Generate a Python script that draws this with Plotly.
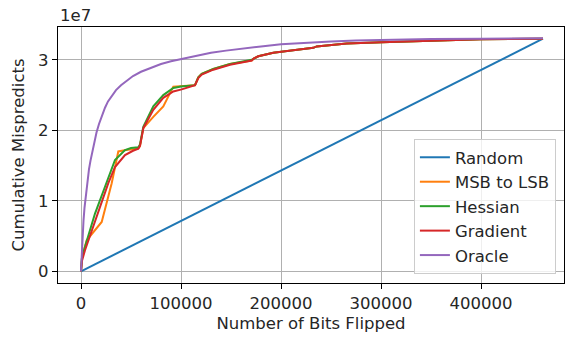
import plotly.graph_objects as go

# ---- data (values in units of mispredicts) ----
random_x = [0, 100000, 200000, 300000, 400000, 462000]
random_y = [0, 0.715e7, 1.43e7, 2.15e7, 2.86e7, 3.30e7]

msb_x = [0, 1000, 5700, 20700, 30700, 37300, 45000, 57300, 59000, 62300, 72300, 82300,
         92300, 100000, 114000, 117300, 120700, 132300, 149000, 170700, 173000, 177300,
         192300, 209000, 219000, 232300, 235700, 265700, 300700, 349000, 400000, 462000]
msb_y = [0, 0.20, 0.44, 0.70, 1.25, 1.70, 1.72, 1.74, 1.78, 2.03, 2.19, 2.34,
         2.62, 2.63, 2.64, 2.75, 2.80, 2.87, 2.94, 2.99, 3.02, 3.05,
         3.10, 3.13, 3.15, 3.17, 3.19, 3.23, 3.25, 3.27, 3.29, 3.30]

hess_x = [0, 1000, 4000, 14000, 24000, 34000, 44000, 50000, 57300, 59000, 62300, 72300,
          82300, 92300, 100000, 114000, 117300, 120700, 132300, 149000, 170700, 173000,
          177300, 192300, 209000, 219000, 232300, 235700, 265700, 300700, 349000, 400000, 462000]
hess_y = [0, 0.20, 0.35, 0.82, 1.20, 1.58, 1.72, 1.75, 1.76, 1.80, 2.05, 2.34,
          2.50, 2.60, 2.62, 2.64, 2.75, 2.80, 2.87, 2.94, 3.00, 3.02,
          3.05, 3.10, 3.13, 3.15, 3.17, 3.19, 3.23, 3.25, 3.27, 3.29, 3.30]

grad_x = [0, 1000, 4000, 10700, 19000, 27300, 34000, 44000, 52000, 57300, 59000, 62300,
          72300, 82300, 92300, 100700, 114000, 117300, 120700, 132300, 149000, 170700,
          173000, 177300, 192300, 209000, 219000, 232300, 235700, 265700, 300700, 349000,
          400000, 462000]
grad_y = [0, 0.15, 0.30, 0.58, 0.91, 1.25, 1.48, 1.65, 1.71, 1.74, 1.78, 2.03,
          2.29, 2.46, 2.55, 2.58, 2.64, 2.74, 2.79, 2.86, 2.93, 2.99,
          3.02, 3.05, 3.10, 3.13, 3.15, 3.17, 3.19, 3.23, 3.25, 3.27,
          3.29, 3.30]

oracle_x = [0, 700, 1500, 2500, 3500, 5000, 6500, 8000, 9500, 11000, 13000, 15500, 18000,
            20500, 24000, 27000, 31000, 35000, 40000, 45000, 52000, 60000, 70000,
            80000, 90000, 100000, 115000, 130000, 145000, 160000, 180000, 200000,
            225000, 250000, 275000, 300000, 350000, 400000, 462000]
oracle_y = [0, 0.28, 0.50, 0.72, 0.90, 1.12, 1.30, 1.45, 1.57, 1.68, 1.82, 1.97, 2.09,
            2.20, 2.32, 2.41, 2.50, 2.57, 2.64, 2.70, 2.77, 2.83, 2.89,
            2.94, 2.98, 3.01, 3.06, 3.10, 3.13, 3.16, 3.19, 3.22,
            3.245, 3.26, 3.275, 3.285, 3.295, 3.30, 3.305]

SCALE = 1e7
y_tick_vals = [0, 1, 2, 3]
y_tick_text = ["0", "1", "2", "3"]
x_tick_vals = [0, 100000, 200000, 300000, 400000]
x_tick_text = ["0", "100000", "200000", "300000", "400000"]

series = [
    ("Random", random_x, random_y, "#1f77b4"),
    ("MSB to LSB", msb_x, [v * SCALE for v in msb_y], "#ff7f0e"),
    ("Hessian", hess_x, [v * SCALE for v in hess_y], "#2ca02c"),
    ("Gradient", grad_x, [v * SCALE for v in grad_y], "#d62728"),
    ("Oracle", oracle_x, [v * SCALE for v in oracle_y], "#9467bd"),
]

FONT = "DejaVu Sans"
FS = 16.5
fig = go.Figure()
for name, xs, ys, color in series:
    fig.add_trace(go.Scatter(x=xs, y=ys, mode="lines", name=name,
                             line=dict(color=color, width=2)))

fig.update_layout(
    width=569, height=337,
    margin=dict(l=58, r=5, t=27, b=54),
    paper_bgcolor="white", plot_bgcolor="white",
    font=dict(family=FONT, size=FS, color="#262626"),
    showlegend=True,
    legend=dict(x=0.984, xanchor="right", y=0.035, yanchor="bottom",
                bgcolor="rgba(255,255,255,0.8)", bordercolor="#cccccc", borderwidth=1,
                font=dict(family=FONT, size=FS, color="#262626"),
                tracegroupgap=0, itemwidth=30),
    xaxis=dict(range=[-23000, 483000], tickvals=x_tick_vals, ticktext=x_tick_text,
               showgrid=True, gridcolor="#b0b0b0", gridwidth=1,
               showline=True, linecolor="black", linewidth=1.2, mirror=True,
               ticks="outside", ticklen=5, tickcolor="black", zeroline=False,
               title=dict(text="Number of Bits Flipped", standoff=5,
                          font=dict(family=FONT, size=FS))),
    yaxis=dict(range=[-0.165e7, 3.465e7], tickvals=[v * SCALE for v in y_tick_vals],
               ticktext=y_tick_text,
               showgrid=True, gridcolor="#b0b0b0", gridwidth=1,
               showline=True, linecolor="black", linewidth=1.2, mirror=True,
               ticks="outside", ticklen=5, tickcolor="black", zeroline=False,
               title=dict(text="Cumulative Mispredicts", standoff=9,
                          font=dict(family=FONT, size=FS))),
    annotations=[dict(text="1e7", xref="paper", yref="paper", x=0, y=1,
                      xanchor="left", yanchor="bottom", showarrow=False,
                      font=dict(family=FONT, size=FS, color="#262626"), yshift=0)],
)

fig.write_html("out.html")
